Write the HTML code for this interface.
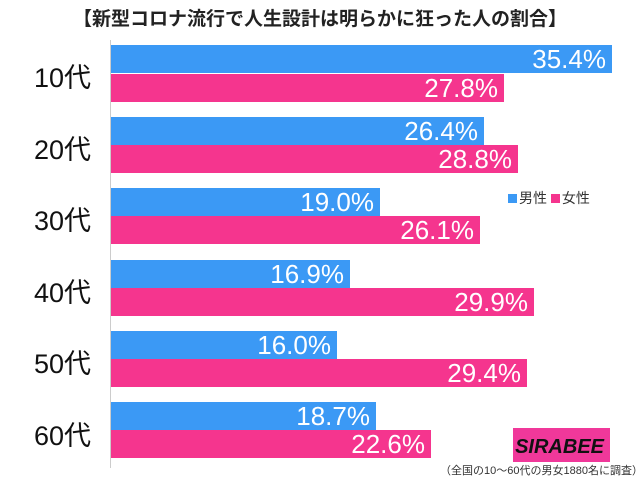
<!DOCTYPE html>
<html><head><meta charset="utf-8"><style>
body{margin:0;width:640px;height:478px;background:#fff;position:relative;overflow:hidden;font-family:"Liberation Sans","Noto Sans CJK JP",sans-serif}
.t{position:absolute;left:0;width:640px;top:4px;text-align:center;font-size:19px;font-weight:bold;color:#222}
.ax{position:absolute;left:110px;top:40px;width:1px;height:428px;background:#ccc}
.b{position:absolute;left:111px;height:28px;color:#fff;font-size:26px;text-align:right;line-height:29px;box-sizing:border-box;padding-right:6px}
.m{background:#3b99f5}.f{background:#f5358e}
.c{position:absolute;left:34px;width:70px;font-size:27px;color:#111}
.lg{position:absolute;left:508px;top:188px;font-size:14px;color:#333}
.sq{display:inline-block;width:9px;height:9px;margin-right:2px}
.logo{position:absolute;left:513px;top:428px;width:97px;height:34px;background:#f0389a;color:#111;font-weight:bold;font-style:italic;font-size:20px;line-height:38px;text-align:right;padding-right:6px;box-sizing:border-box}
.fn{position:absolute;left:440px;top:462px;font-size:11px;color:#333}
</style></head><body>
<div class="t">【新型コロナ流行で人生設計は明らかに狂った人の割合】</div>
<div class="ax"></div>

<div class="c" style="top:56px">10代</div>
<div class="b m" style="top:45px;width:501px">35.4%</div>
<div class="b f" style="top:74px;width:393px">27.8%</div>

<div class="c" style="top:128px">20代</div>
<div class="b m" style="top:117px;width:373px">26.4%</div>
<div class="b f" style="top:145px;width:407px">28.8%</div>

<div class="c" style="top:199px">30代</div>
<div class="b m" style="top:188px;width:269px">19.0%</div>
<div class="b f" style="top:216px;width:369px">26.1%</div>

<div class="c" style="top:271px">40代</div>
<div class="b m" style="top:260px;width:239px">16.9%</div>
<div class="b f" style="top:288px;width:423px">29.9%</div>

<div class="c" style="top:342px">50代</div>
<div class="b m" style="top:331px;width:226px">16.0%</div>
<div class="b f" style="top:359px;width:416px">29.4%</div>

<div class="c" style="top:414px">60代</div>
<div class="b m" style="top:402px;width:265px">18.7%</div>
<div class="b f" style="top:430px;width:320px">22.6%</div>

<div class="lg"><span class="sq" style="background:#3b99f5"></span>男性 <span class="sq" style="background:#f5358e"></span>女性</div>
<div class="logo">SIRABEE</div>
<div class="fn">（全国の10〜60代の男女1880名に調査）</div>
</body></html>
